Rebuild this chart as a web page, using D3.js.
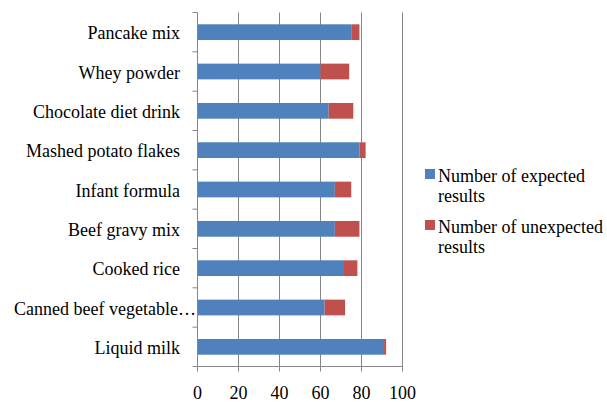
<!DOCTYPE html>
<html><head><meta charset="utf-8">
<script src="https://cdn.jsdelivr.net/npm/d3@7"></script>
<style>body{margin:0;background:#fff}text{font-family:"Liberation Serif","Times New Roman",serif;}</style>
</head><body><svg id="c" width="607" height="402"></svg>
<script>
const categories = ["Pancake mix","Whey powder","Chocolate diet drink","Mashed potato flakes","Infant formula","Beef gravy mix","Cooked rice","Canned beef vegetable…","Liquid milk"];
const expected = [75,60,64,79,67,67,71,62,91];
const unexpected = [4,14,12,3,8,12,7,10,1];
const xTicks = [0,20,40,60,80,100];
const seriesNames = ["Number of expected results","Number of unexpected results"];
const colors = ["#4F81BD","#C0504D"];

const svg = d3.select("#c");
const pLeft = 197.5, pRight = 402.5, pTop = 12.5, pBottom = 366.5;
const x = d3.scaleLinear().domain([0,100]).range([pLeft,pRight]);
const y = d3.scaleBand().domain(categories).range([pTop,pBottom]).paddingInner(0.6).paddingOuter(0.3);
const yb = d3.scaleBand().domain(categories).range([pTop,pBottom]);

// gridlines
svg.append("g").selectAll("line").data(xTicks.slice(1)).join("line")
  .attr("x1",d=>x(d)).attr("x2",d=>x(d)).attr("y1",pTop).attr("y2",pBottom+5)
  .attr("stroke","#878787").attr("stroke-width",1);

// bars
const rows = categories.map((c,i)=>({c,e:expected[i],u:unexpected[i]}));
svg.append("g").selectAll("rect").data(rows).join("rect")
  .attr("x",x(0)).attr("y",d=>y(d.c)).attr("width",d=>x(d.e)-x(0)).attr("height",y.bandwidth())
  .attr("fill",colors[0]);
svg.append("g").selectAll("rect").data(rows).join("rect")
  .attr("x",d=>x(d.e)).attr("y",d=>y(d.c)).attr("width",d=>x(d.e+d.u)-x(d.e)).attr("height",y.bandwidth())
  .attr("fill",colors[1]);

// y axis line and ticks at band boundaries
svg.append("line").attr("x1",pLeft).attr("x2",pLeft).attr("y1",pTop).attr("y2",pBottom+5).attr("stroke","#878787");
const bounds = categories.map(c=>yb(c)).concat([pBottom]);
svg.append("g").selectAll("line").data(bounds).join("line")
  .attr("x1",pLeft-5).attr("x2",pLeft).attr("y1",d=>d).attr("y2",d=>d).attr("stroke","#878787");
// x axis line
svg.append("line").attr("x1",pLeft).attr("x2",pRight).attr("y1",pBottom).attr("y2",pBottom).attr("stroke","#878787");

// category labels
svg.append("g").selectAll("text").data(categories).join("text")
  .attr("x",180).attr("y",c=>yb(c)+yb.bandwidth()/2).attr("dy","0.4em")
  .attr("text-anchor","end").attr("font-size",18).attr("fill","#000").text(c=>c);
// the truncated label overflows to the axis in the reference
svg.selectAll("g text").filter(c=>typeof c==="string" && c.endsWith("…")).attr("x",196);

// x tick labels
svg.append("g").selectAll("text").data(xTicks).join("text")
  .attr("x",d=>x(d)).attr("y",399).attr("text-anchor","middle").attr("font-size",18).text(d=>d);

// legend
const leg = [[["Number of expected","results"],182,169],[["Number of unexpected","results"],233,220]];
leg.forEach((l,i)=>{
  svg.append("rect").attr("x",425).attr("y",l[2]).attr("width",10).attr("height",10).attr("fill",colors[i]);
  const t = svg.append("text").attr("x",438).attr("y",l[1]).attr("font-size",18);
  l[0].forEach((s,j)=>t.append("tspan").attr("x",438).attr("dy",j?"20":"0").text(s));
});
</script></body></html>
